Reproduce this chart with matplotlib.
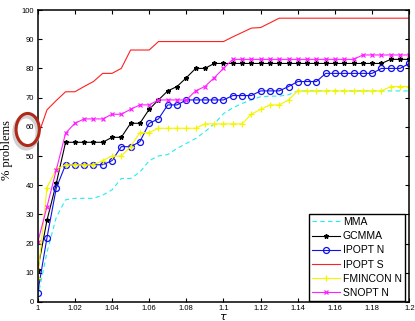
import numpy as np
import matplotlib
matplotlib.use('Agg')
import matplotlib.pyplot as plt
from matplotlib.patches import Ellipse

# performance profile data, tau sampled every 0.005
tau = np.linspace(1.0, 1.2, 41)

mma = [1.6, 17, 29, 35, 35.5, 35.5, 35.5, 36.6, 38.4, 42.3, 42.3, 44.5, 48.4, 50, 50.5,
       52.6, 54.3, 56, 58.3, 61, 64.5, 66.5, 68, 69.2, 70.3, 70.5, 70.5, 71, 72.3,
       72.3, 72.3, 72.3, 72.3, 72.3, 72.3, 72.3, 72.3, 72.3, 72.3, 72.3, 72.3]
gcmma = [11, 28, 40.6, 54.7, 54.7, 54.7, 54.7, 54.7, 56.4, 56.4, 61.2, 61.2, 66, 69.2,
         72.3, 73.8, 76.8, 80, 80, 81.7, 81.7, 81.7, 81.7, 81.7, 81.7, 81.7, 81.7, 81.7,
         81.7, 81.7, 81.7, 81.7, 81.7, 81.7, 81.7, 81.7, 81.7, 81.7, 83.1, 83.1, 83.1]
ipopt_n = [3.2, 22, 39, 47, 47, 47, 47, 47, 48.4, 53.2, 53.2, 54.9, 61.2, 62.7, 67.5,
           67.5, 69.2, 69.2, 69.2, 69.2, 69.2, 70.7, 70.7, 70.7, 72.3, 72.3, 72.3, 73.8,
           75.5, 75.5, 75.5, 78.3, 78.3, 78.3, 78.3, 78.3, 78.3, 80, 80, 80, 81.7]
ipopt_s = [56.6, 65.8, 69, 72, 72, 73.8, 75.5, 78.3, 78.3, 80, 86.3, 86.3, 86.3, 89.2,
           89.2, 89.2, 89.2, 89.2, 89.2, 89.2, 89.2, 90.8, 92.3, 93.8, 94, 95.6, 97.2,
           97.2, 97.2, 97.2, 97.2, 97.2, 97.2, 97.2, 97.2, 97.2, 97.2, 97.2, 97.2, 97.2, 97.2]
fmincon_n = [8.1, 39.2, 45.4, 47, 47, 47, 47, 48.4, 50, 50, 53.2, 58, 58, 59.5, 59.5,
             59.5, 59.5, 59.5, 61, 61, 61, 61, 61, 64.3, 66, 67.5, 67.5, 69.2, 72.3,
             72.3, 72.3, 72.3, 72.3, 72.3, 72.3, 72.3, 72.3, 72.3, 73.8, 73.8, 73.8]
snopt_n = [20.4, 32.6, 45.2, 57.8, 61.2, 62.7, 62.7, 62.7, 64.3, 64.3, 66, 67.5, 67.5,
           69.2, 69.2, 69.2, 69.2, 72.3, 73.8, 76.8, 80, 83.1, 83.1, 83.1, 83.1, 83.1,
           83.1, 83.1, 83.1, 83.1, 83.1, 83.1, 83.1, 83.1, 83.1, 84.6, 84.6, 84.6, 84.6,
           84.6, 84.6]

xticks = [1, 1.02, 1.04, 1.06, 1.08, 1.1, 1.12, 1.14, 1.16, 1.18, 1.2]
xticklabels = ['1', '1.02', '1.04', '1.06', '1.08', '1.1', '1.12', '1.14', '1.16', '1.18', '1.2']
yticks = list(range(0, 101, 10))

plt.rcParams['font.family'] = 'Liberation Sans'

fig = plt.figure(figsize=(4.15, 3.21), dpi=100)
ax = fig.add_axes([0.0908, 0.0592, 0.8955, 0.9096])

lw = 0.8
ax.plot(tau, mma, color='#22eeee', lw=lw, dashes=(4, 3), label='MMA')
ax.plot(tau, gcmma, color='k', lw=lw, marker='*', ms=3.3, label='GCMMA')
ax.plot(tau, ipopt_n, color='#1010ee', lw=lw, marker='o', ms=4.3, mfc='none', mew=0.9,
        label='IPOPT N')
ax.plot(tau, ipopt_s, color='#ff2020', lw=lw, label='IPOPT S')
ax.plot(tau, fmincon_n, color='#f5f500', lw=lw, marker='+', ms=4.5, mew=0.9,
        label='FMINCON N')
ax.plot(tau, snopt_n, color='#ff20ff', lw=lw, marker='x', ms=3.5, mew=0.9,
        label='SNOPT N')

ax.set_xlim(1, 1.2)
ax.set_ylim(0, 100)
ax.set_xticks(xticks)
ax.set_xticklabels(xticklabels)
ax.set_yticks(yticks)
ax.tick_params(direction='in', length=3, width=0.8, labelsize=5.5, pad=2.5,
               top=True, right=True)
for s in ax.spines.values():
    s.set_linewidth(1.1)

ax.set_ylabel('% problems', family='Liberation Serif', fontsize=9)
ax.yaxis.set_label_coords(-0.066, 0.52)
ax.set_xlabel(r'$\tau$', fontsize=8)
ax.xaxis.set_label_coords(0.5, -0.035)

leg = ax.legend(loc='lower right', bbox_to_anchor=(0.976, 0.062),
                bbox_transform=fig.transFigure, borderaxespad=0, fontsize=7.5,
                fancybox=False, edgecolor='k', framealpha=1, handlelength=2.7,
                handletextpad=0.3, labelspacing=0.4, borderpad=0.3)
leg.get_frame().set_linewidth(1.0)

# highlight ring around the 60% mark, with a soft grey shadow
shadow = Ellipse((0.063, 0.588), 0.056, 0.1, transform=fig.transFigure,
                 fill=False, ec='#d0d0d0', lw=3.2, clip_on=False)
ring = Ellipse((0.0667, 0.5966), 0.056, 0.1, transform=fig.transFigure,
               fill=False, ec='#b02818', lw=2.2, clip_on=False)
fig.add_artist(shadow)
fig.add_artist(ring)

fig.savefig('out.png', dpi=100)
